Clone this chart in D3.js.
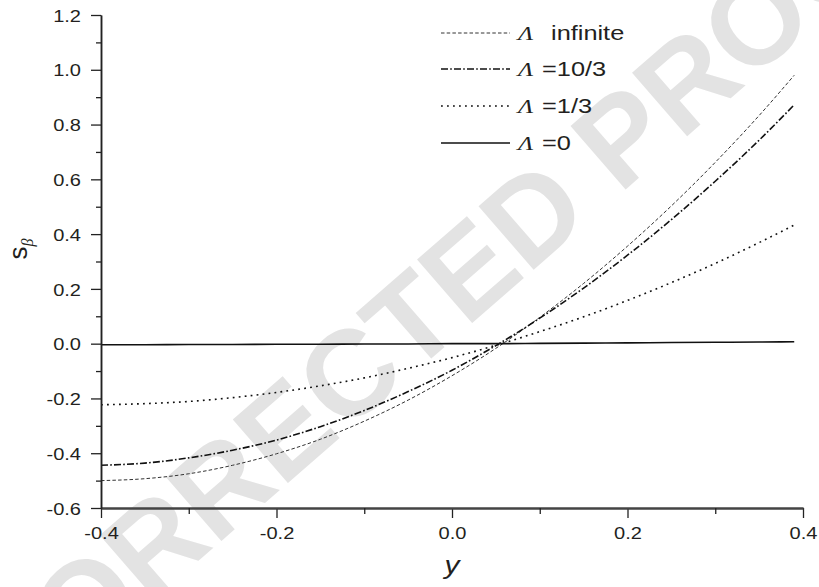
<!DOCTYPE html>
<html>
<head>
<meta charset="utf-8" />
<script src="https://d3js.org/d3.v7.min.js"></script>
<style>
  body { margin: 0; background: #fff; }
  text { font-family: "Liberation Sans", Arial, sans-serif; fill: #231f20; }
</style>
</head>
<body>
<svg id="chart"></svg>
<script>
// values
var xs        = [-0.4, -0.35, -0.3, -0.25, -0.2, -0.15, -0.1, -0.05, 0, 0.05, 0.1, 0.15, 0.2, 0.25, 0.3, 0.35, 0.39];
var lamInf    = [-0.500, -0.493, -0.475, -0.444, -0.402, -0.349, -0.283, -0.206, -0.117, -0.017, 0.096, 0.220, 0.356, 0.503, 0.662, 0.833, 0.980];
var lam10_3   = [-0.444, -0.436, -0.417, -0.389, -0.352, -0.303, -0.244, -0.175, -0.097, -0.007, 0.093, 0.203, 0.323, 0.453, 0.593, 0.743, 0.872];
var lam1_3    = [-0.223, -0.219, -0.211, -0.197, -0.178, -0.154, -0.125, -0.090, -0.051, -0.006, 0.044, 0.098, 0.158, 0.223, 0.293, 0.369, 0.433];
var lam0      = [-0.004, -0.004, -0.003, -0.003, -0.002, -0.002, -0.001, -0.001, 0.000, 0.000, 0.001, 0.002, 0.003, 0.004, 0.005, 0.006, 0.007];
var seriesNames = ["infinite", "=10/3", "=1/3", "=0"];
var xTicks = [-0.4, -0.2, 0.0, 0.2, 0.4];
var xMinorTicks = [-0.3, -0.1, 0.1, 0.3];
var yTicks = [-0.6, -0.4, -0.2, 0.0, 0.2, 0.4, 0.6, 0.8, 1.0, 1.2];
var yMinorTicks = [-0.5, -0.3, -0.1, 0.1, 0.3, 0.5, 0.7, 0.9, 1.1];

var width = 819, height = 587;
var svg = d3.select("#chart").attr("width", width).attr("height", height);

var x = d3.scaleLinear().domain([-0.4, 0.4]).range([101, 803]);
var y = d3.scaleLinear().domain([-0.6, 1.2]).range([508, 15]);

// watermark
svg.append("text")
  .attr("transform", "translate(450,284) rotate(-41)")
  .attr("text-anchor", "middle")
  .attr("dy", "0.36em")
  .style("font-size", "122px")
  .style("font-weight", "bold")
  .style("fill", "#e3e3e3")
  .text("CORRECTED PROOF");

// line style of each series
var styles = [
  { data: lamInf,  dash: "3.5,2.2",       w: 1.0, c: "#333" },
  { data: lam10_3, dash: "7,2.2,1.6,2.2", w: 1.6, c: "#111" },
  { data: lam1_3,  dash: "1.8,4.2",       w: 1.6, c: "#111" },
  { data: lam0,    dash: null,            w: 1.6, c: "#111" }
];

var line = d3.line()
  .x(function(d) { return x(d[0]); })
  .y(function(d) { return y(d[1]); })
  .curve(d3.curveMonotoneX);

styles.forEach(function(s) {
  var pts = xs.map(function(v, i) { return [v, s.data[i]]; });
  svg.append("path")
    .attr("d", line(pts))
    .attr("fill", "none")
    .attr("stroke", s.c)
    .attr("stroke-width", s.w)
    .attr("stroke-dasharray", s.dash);
});

var fmt = function(d) { return d.toFixed(1); };

// axes
var xAxis = svg.append("g").attr("transform", "translate(0,508)")
  .call(d3.axisBottom(x).tickValues(xTicks).tickSize(10).tickSizeOuter(0).tickPadding(9).tickFormat(fmt));
var xMinor = svg.append("g").attr("transform", "translate(0,508)")
  .call(d3.axisBottom(x).tickValues(xMinorTicks).tickSize(6).tickSizeOuter(0).tickFormat(""));
var yAxis = svg.append("g").attr("transform", "translate(101,0)")
  .call(d3.axisLeft(y).tickValues(yTicks).tickSize(10).tickSizeOuter(0).tickFormat(fmt));
var yMinor = svg.append("g").attr("transform", "translate(101,0)")
  .call(d3.axisLeft(y).tickValues(yMinorTicks).tickSize(5).tickSizeOuter(0).tickFormat(""));

[xAxis, xMinor].forEach(function(g) {
  g.select(".domain").attr("stroke", "#444").attr("stroke-width", 2);
  g.selectAll(".tick line").attr("stroke", "#222").attr("stroke-width", 1.3);
});
[yAxis, yMinor].forEach(function(g) {
  g.select(".domain").attr("stroke", "#222").attr("stroke-width", 1.5);
  g.selectAll(".tick line").attr("stroke", "#222").attr("stroke-width", 1.3);
});

xAxis.selectAll(".tick text")
  .attr("transform", "scale(1.18,1)")
  .attr("fill", "#231f20")
  .style("font-size", "17px").style("font-family", "'Liberation Sans', Arial, sans-serif");
yAxis.selectAll(".tick text")
  .attr("x", 0)
  .attr("dy", "0.36em")
  .attr("transform", "translate(-20,0) scale(1.18,1)")
  .attr("fill", "#231f20")
  .style("font-size", "17px").style("font-family", "'Liberation Sans', Arial, sans-serif");

// axis titles
svg.append("text")
  .attr("transform", "translate(452,574) scale(1.15,1)")
  .attr("text-anchor", "middle")
  .style("font-size", "26px").style("font-style", "italic")
  .text("y");

var yl = svg.append("text")
  .attr("transform", "translate(27,249) rotate(-90)")
  .attr("text-anchor", "middle")
  .style("font-size", "26px");
yl.append("tspan").text("s");
yl.append("tspan").attr("dy", 6).style("font-size", "16px")
  .style("font-style", "italic").style("font-family", "'Liberation Serif', serif").text("β");

// legend
var rowY = [33, 69, 106, 143];
styles.forEach(function(s, i) {
  svg.append("line")
    .attr("x1", 441).attr("x2", 510)
    .attr("y1", rowY[i]).attr("y2", rowY[i])
    .attr("stroke", s.c)
    .attr("stroke-width", s.w)
    .attr("stroke-dasharray", s.dash);
  svg.append("text")
    .attr("transform", "translate(518," + rowY[i] + ") scale(1.3,1)")
    .attr("dy", "0.36em")
    .style("font-size", "19.5px")
    .style("font-family", "'Liberation Serif', serif").style("font-style", "italic")
    .text("Λ");
  svg.append("text")
    .attr("transform", "translate(" + (i === 0 ? 551 : 542) + "," + rowY[i] + ") scale(1.3,1)")
    .attr("dy", "0.36em")
    .style("font-size", "19.5px")
    .text(seriesNames[i]);
});
</script>
</body>
</html>
